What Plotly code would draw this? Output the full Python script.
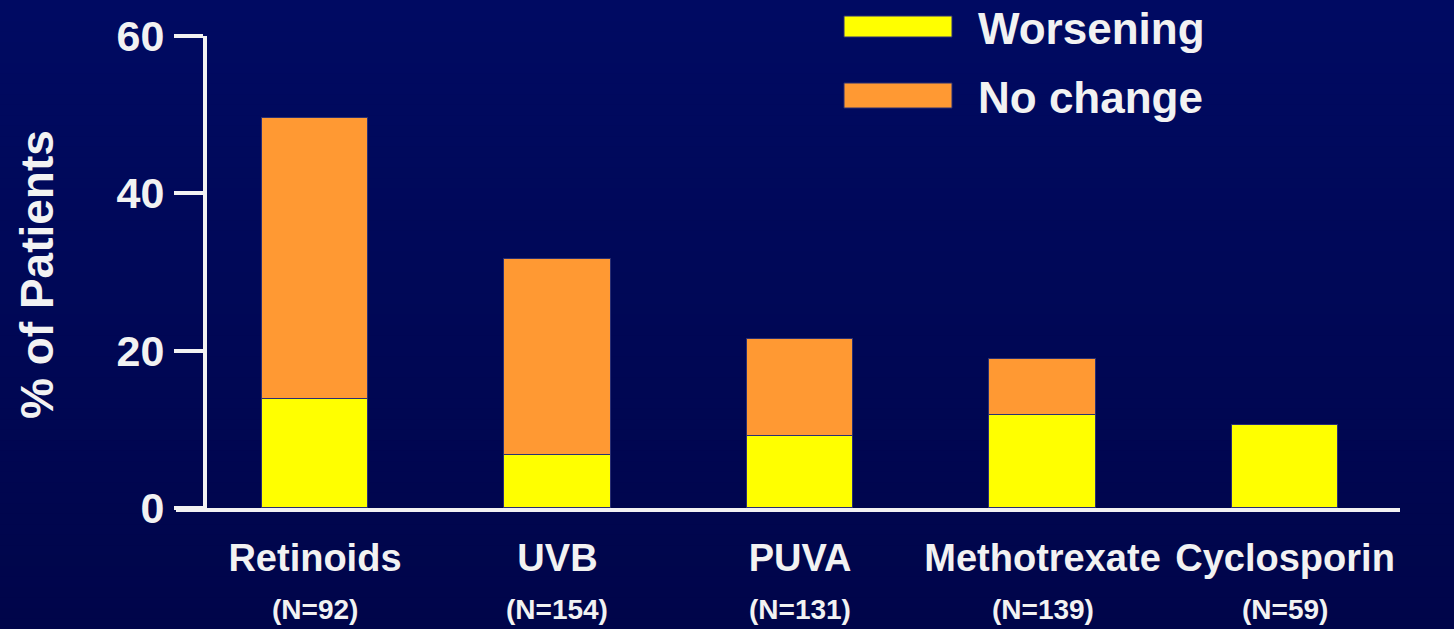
import plotly.graph_objects as go

# Chart data
categories = ["Retinoids", "UVB", "PUVA", "Methotrexate", "Cyclosporin"]
sample_sizes = ["(N=92)", "(N=154)", "(N=131)", "(N=139)", "(N=59)"]
worsening = [13.8, 6.7, 9.2, 11.8, 10.6]
no_change = [35.8, 25.0, 12.3, 7.1, 0.0]
y_ticks = [0, 20, 40, 60]
series_names = ["Worsening", "No change"]

# Styling
BG_TOP = (0, 10, 98)
BG_BOTTOM = (0, 5, 74)
TEXT = "#f2f2f2"
YELLOW = "#ffff00"
ORANGE = "#ff9933"
OUTLINE = "#2b2f72"
FONT = "Liberation Sans"

W, H = 1454, 629
ML, MR, MT, MB = 176, 54, 36, 121
plot_w = W - ML - MR
plot_h = H - MT - MB


def px_to_paper_y(py):
    return (MT + plot_h - py) / plot_h


def px_to_paper_x(px):
    return (px - ML) / plot_w


fig = go.Figure()

# Vertical background gradient built from thin horizontal bands
n_bands = 60
for i in range(n_bands):
    t = i / (n_bands - 1)
    r, g, b = (round(a + (c - a) * t) for a, c in zip(BG_TOP, BG_BOTTOM))
    y_top = H * i / n_bands
    y_bot = H * (i + 1) / n_bands + 1
    fig.add_shape(
        type="rect", xref="paper", yref="paper", layer="below",
        x0=px_to_paper_x(0), x1=px_to_paper_x(W),
        y0=px_to_paper_y(y_bot), y1=px_to_paper_y(y_top),
        fillcolor=f"rgb({r},{g},{b})", line=dict(width=0),
    )

for name, vals, color in [(series_names[0], worsening, YELLOW),
                          (series_names[1], no_change, ORANGE)]:
    fig.add_trace(go.Bar(
        x=categories, y=vals, name=name, width=0.44,
        marker=dict(color=color, line=dict(color=OUTLINE, width=1.5)),
        showlegend=False,
    ))

# Sample size labels under each category
for cat, n in zip(categories, sample_sizes):
    fig.add_annotation(
        x=cat, xref="x", y=px_to_paper_y(609), yref="paper",
        text=n, showarrow=False, yanchor="middle",
        font=dict(family=FONT, size=28, color=TEXT, weight="bold"),
    )

# Y-axis title
fig.add_annotation(
    x=px_to_paper_x(37), xref="paper", y=px_to_paper_y(275), yref="paper",
    text="% of Patients", textangle=-90, showarrow=False,
    xanchor="center", yanchor="middle",
    font=dict(family=FONT, size=46, color=TEXT, weight="bold"),
)

# Legend: wide colour swatches with labels
legend_rows = [(series_names[0], YELLOW, 16, 37), (series_names[1], ORANGE, 83, 108)]
for label, color, top_px, bot_px in legend_rows:
    fig.add_shape(
        type="rect", xref="paper", yref="paper",
        x0=px_to_paper_x(844), x1=px_to_paper_x(952),
        y0=px_to_paper_y(bot_px), y1=px_to_paper_y(top_px),
        fillcolor=color, line=dict(color=OUTLINE, width=1),
    )
    fig.add_annotation(
        x=px_to_paper_x(976), xref="paper",
        y=px_to_paper_y((top_px + bot_px) / 2 + 2), yref="paper",
        text=label, showarrow=False, xanchor="left", yanchor="middle",
        font=dict(family=FONT, size=44, color=TEXT, weight="bold"),
    )

fig.update_layout(
    width=W, height=H,
    margin=dict(l=ML, r=MR, t=MT, b=MB, pad=0),
    paper_bgcolor="rgb(0,8,90)", plot_bgcolor="rgba(0,0,0,0)",
    barmode="stack", bargap=0,
    xaxis=dict(
        range=[-0.573, 4.474], showline=True, linewidth=4, linecolor=TEXT,
        ticks="outside", ticklen=13, tickcolor="rgba(0,0,0,0)",
        showgrid=False, zeroline=False,
        tickfont=dict(family=FONT, size=38, color=TEXT, weight="bold"),
    ),
    yaxis=dict(
        range=[0, 60], tickvals=y_ticks, anchor="free", position=29 / plot_w,
        showline=True, linewidth=4, linecolor=TEXT,
        ticks="outside", ticklen=29, tickwidth=4, tickcolor=TEXT,
        showgrid=False, zeroline=False, ticklabelstandoff=1,
        tickfont=dict(family=FONT, size=43, color=TEXT, weight="bold"),
    ),
)

fig.write_html("out.html")
